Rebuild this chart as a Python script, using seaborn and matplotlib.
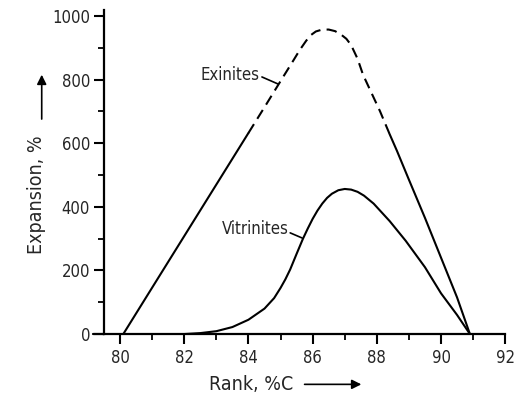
import matplotlib
matplotlib.use("Agg")
import matplotlib.pyplot as plt
import seaborn as sns

# Exinites curve, split into solid / dashed / solid parts
exi_x1 = [80.1, 81.0, 82.0, 83.0, 84.0]
exi_y1 = [0, 146, 308, 470, 632]
exi_x2 = [84.0, 84.5, 85.0, 85.4, 85.6, 85.8, 85.95, 86.1, 86.3, 86.5, 86.7, 86.9,
          87.05, 87.2, 87.4, 87.57, 87.8, 88.1, 88.4]
exi_y2 = [632, 713, 795, 860, 893, 922, 940, 951, 957, 957, 952, 940,
          928, 908, 865, 815, 765, 700, 628]
exi_x3 = [88.4, 88.63, 89.0, 89.5, 90.0, 90.5, 90.9]
exi_y3 = [628, 575, 485, 365, 240, 115, 0]

# Vitrinites curve
vit_x = [82.0, 82.5, 83.0, 83.5, 84.0, 84.5, 84.8, 85.0, 85.15, 85.3, 85.5, 85.7,
         85.85, 86.0, 86.15, 86.3, 86.45, 86.6, 86.8, 87.0, 87.2, 87.4, 87.6,
         87.9, 88.4, 88.9, 89.5, 90.0, 90.5, 90.9]
vit_y = [0, 3, 9, 22, 45, 80, 113, 145, 172, 203, 252, 300,
         332, 362, 388, 410, 428, 441, 452, 456, 454, 447, 435,
         410, 355, 293, 210, 128, 60, 0]

x_ticks = [80, 82, 84, 86, 88, 90, 92]
y_ticks = [0, 200, 400, 600, 800, 1000]

sns.set_style("ticks")
plt.rcParams['font.family'] = ['DejaVu Sans']
plt.rcParams['font.stretch'] = 'condensed'

fig = plt.figure(figsize=(5.15, 3.93), dpi=100)
ax = fig.add_axes([0.202, 0.150, 0.779, 0.825])

lw = 1.5
sns.lineplot(x=exi_x1, y=exi_y1, color="black", lw=lw, ax=ax, sort=False)
sns.lineplot(x=exi_x2, y=exi_y2, color="black", lw=lw, ax=ax, sort=False)
ax.lines[-1].set_linestyle((0, (5, 3)))
sns.lineplot(x=exi_x3, y=exi_y3, color="black", lw=lw, ax=ax, sort=False)
sns.lineplot(x=vit_x, y=vit_y, color="black", lw=lw, ax=ax, sort=False)

# labels with leader lines
ax.plot([84.42, 84.92], [808, 786], color="black", lw=1.2)
ax.text(84.35, 815, "Exinites", ha="right", va="center", fontsize=12)
ax.plot([85.3, 85.67], [318, 302], color="black", lw=1.2)
ax.text(85.25, 330, "Vitrinites", ha="right", va="center", fontsize=12)

ax.set_xlim(79.5, 92)
ax.set_ylim(0, 1019)
ax.set_xticks(x_ticks)
ax.set_yticks(y_ticks)
ax.set_xticks([81, 83, 85, 87, 89, 91], minor=True)
ax.set_yticks([100, 300, 500, 700, 900], minor=True)
ax.tick_params(axis="both", which="major", length=7, width=1.5, labelsize=12, direction="out", color="black")
ax.tick_params(axis="both", which="minor", length=4, width=1.3, direction="out", color="black")
ax.tick_params(axis="y", pad=3)
ax.set_xlabel("")
ax.set_ylabel("")
for s in ["top", "right"]:
    ax.spines[s].set_visible(False)
for s in ["left", "bottom"]:
    ax.spines[s].set_linewidth(1.6)
    ax.spines[s].set_color("black")
# axis line running a little past the y spine
ax.plot([79.15, 79.5], [0, 0], color="black", lw=1.6, clip_on=False)

# axis titles with arrows
fig.text(0.070, 0.505, "Expansion, %", rotation=90, ha="center", va="center", fontsize=14)
ax.annotate("", xy=(0.081, 0.817), xytext=(0.081, 0.690), xycoords="figure fraction",
            arrowprops=dict(arrowstyle="-|>", color="black", lw=1.2, mutation_scale=14))
fig.text(0.487, 0.022, "Rank, %C", ha="center", va="center", fontsize=14)
ax.annotate("", xy=(0.707, 0.022), xytext=(0.586, 0.022), xycoords="figure fraction",
            arrowprops=dict(arrowstyle="-|>", color="black", lw=1.2, mutation_scale=14))

fig.savefig("out.png", dpi=100)
